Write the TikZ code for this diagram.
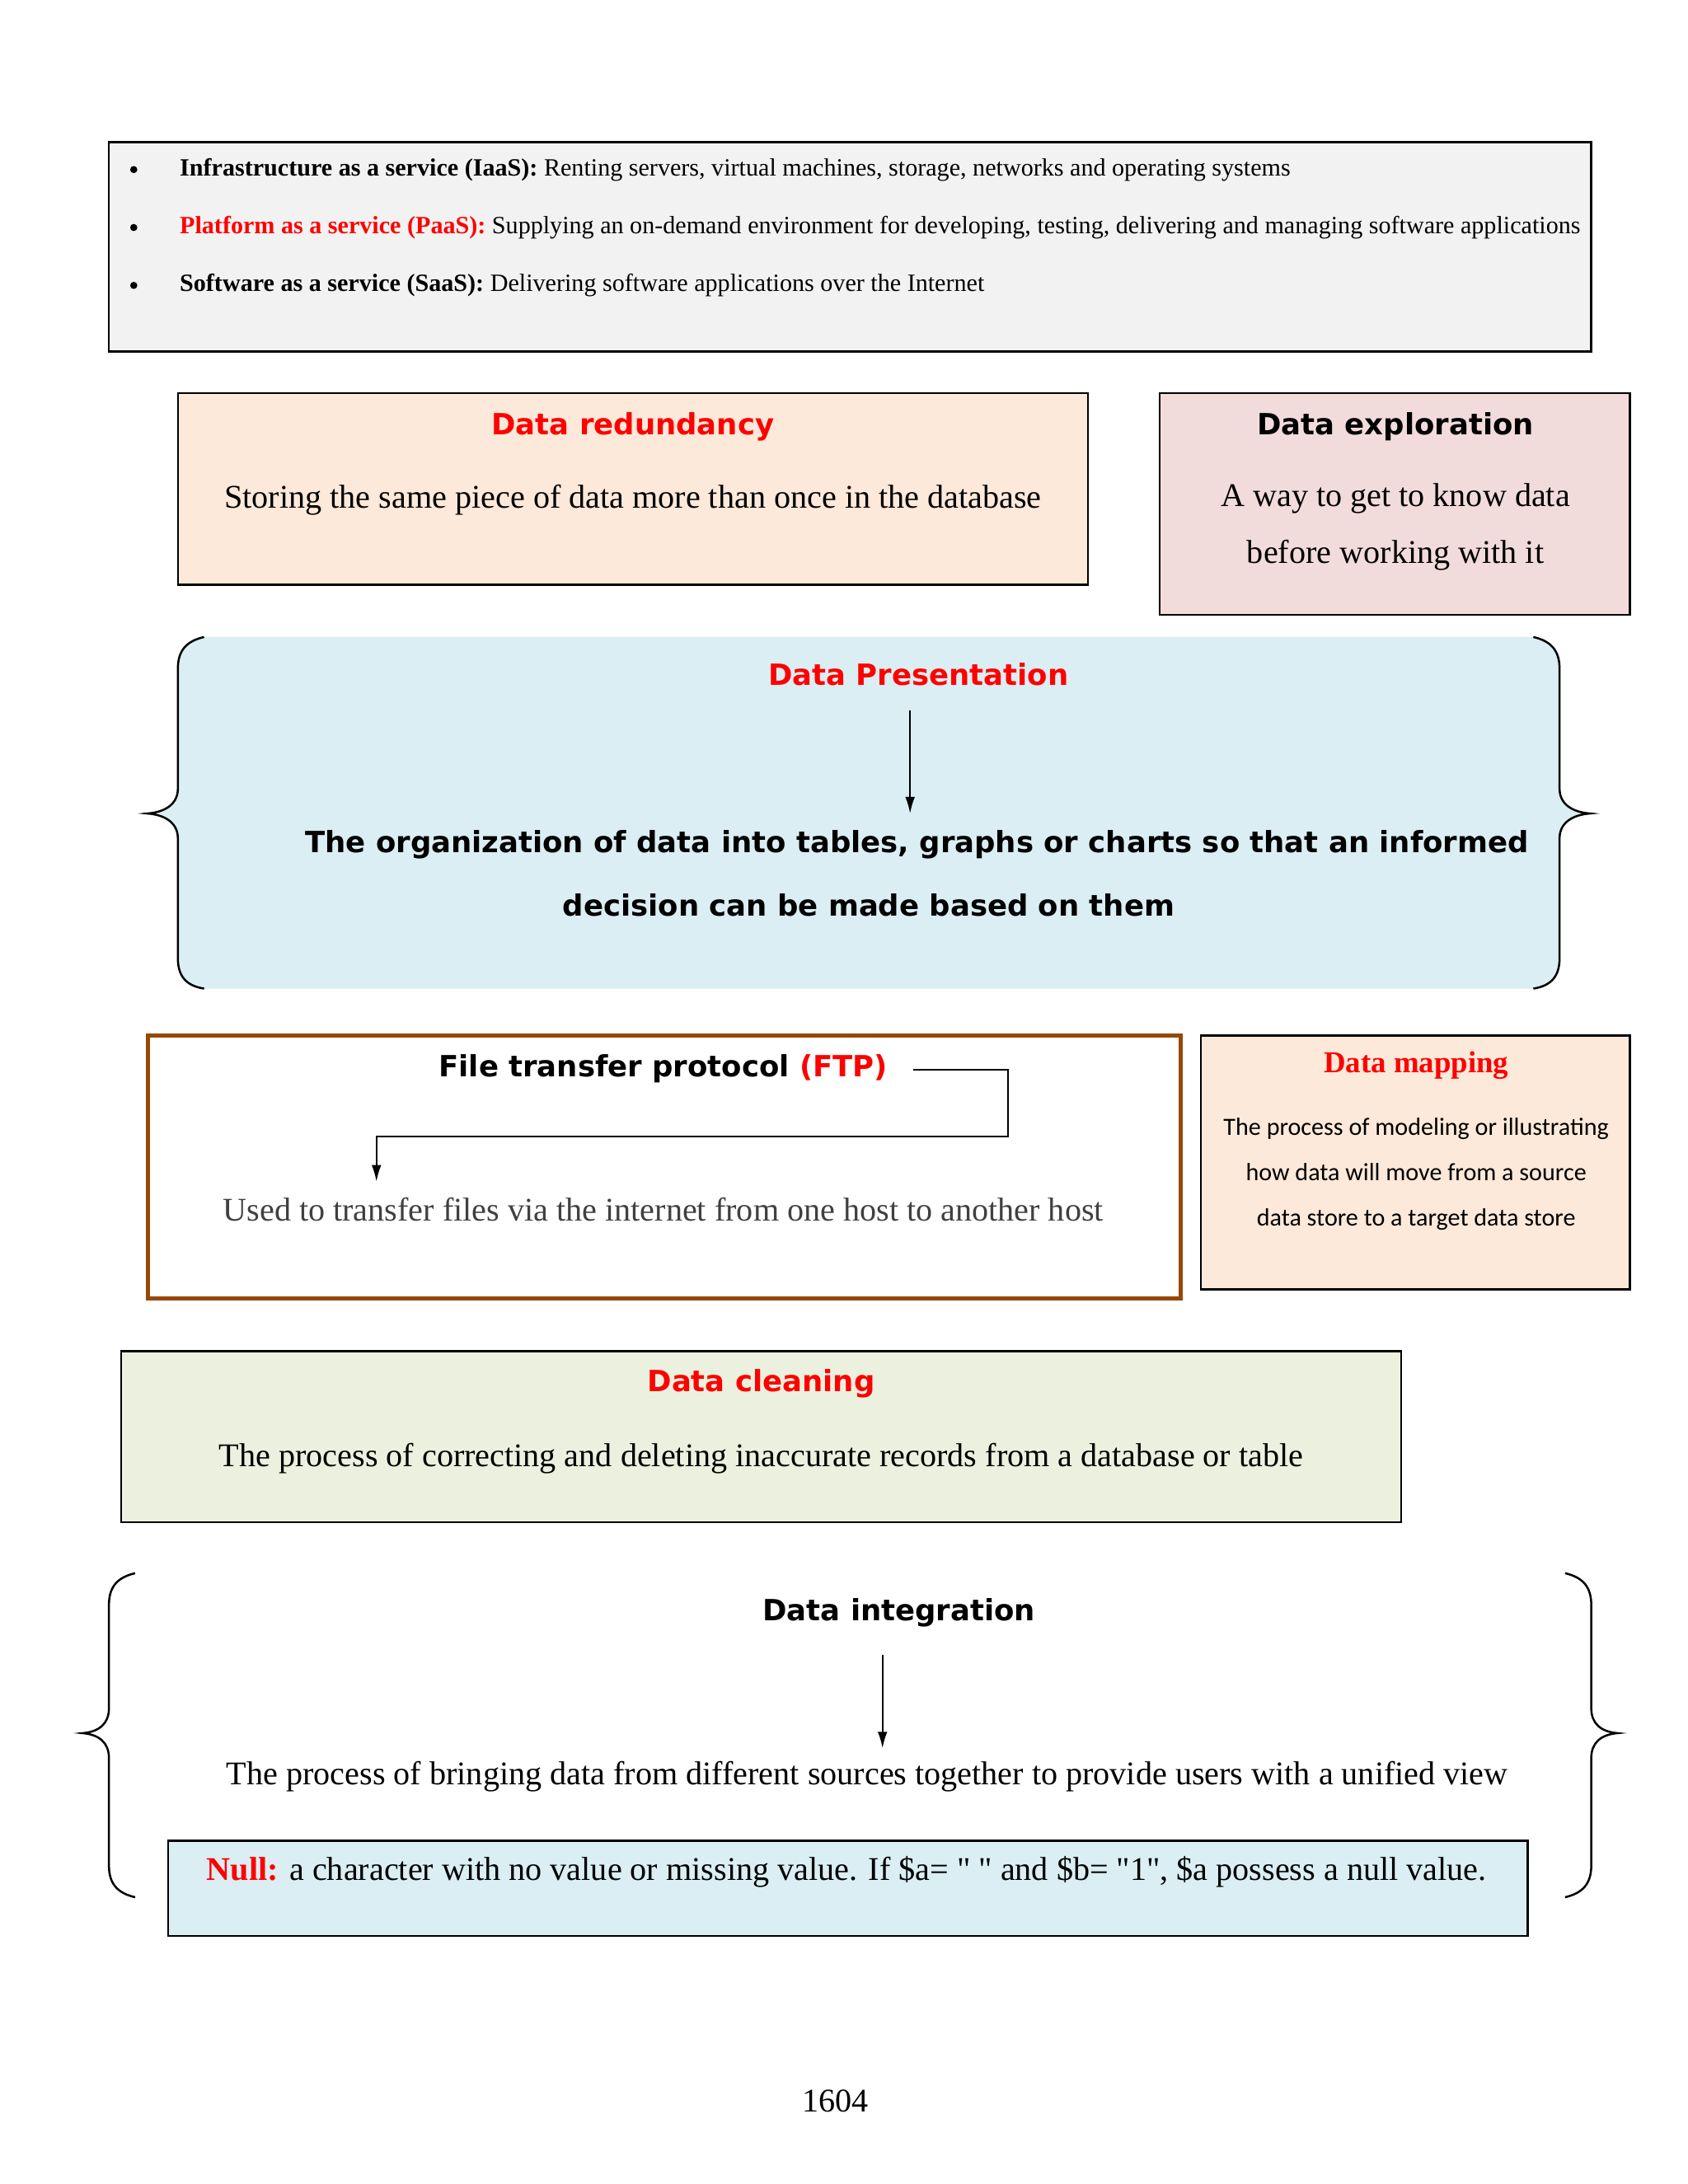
\documentclass[tikz,border=0pt]{standalone}
\usepackage{fontspec}
\setmainfont{Liberation Serif}
\newfontfamily\hd{DejaVu Sans}
\newfontfamily\calfont{Carlito}
\usetikzlibrary{arrows.meta}
\definecolor{redT}{HTML}{FF0000}
\definecolor{greybox}{HTML}{F2F2F2}
\definecolor{peach}{HTML}{FDE9D9}
\definecolor{pinkbox}{HTML}{F2DCDB}
\definecolor{bluebox}{HTML}{DAEEF3}
\definecolor{greenbox}{HTML}{EBF1DE}
\definecolor{brownline}{HTML}{974806}
\definecolor{greytext}{HTML}{404040}
\begin{document}
\begin{tikzpicture}[x=0.5pt,y=-0.5pt,
  box/.style={draw=black, line width=0.75pt},
  txt/.style={inner sep=0pt, anchor=center},
  lt/.style={txt, anchor=west},
  hdtitle/.style={txt, font=\hd\bfseries\fontsize{10.6}{13}\selectfont},
  body/.style={txt, font=\fontsize{12}{14}\selectfont},
  small/.style={font=\fontsize{9}{11}\selectfont},
  arr/.style={line width=0.6pt, -{Latex[length=6pt,width=3.5pt]}},
  brace/.style={line width=0.75pt}]
\useasboundingbox (0,0) rectangle (1224,1584);
\fill[white] (0,0) rectangle (1224,1584);

% ---- top service box
\draw[box, fill=greybox] (79,103) rectangle (1154,255);
\foreach \yy in {123,165,207} \fill (97,\yy) circle (2.6);
\node[lt, small] (iaas) at (130,123) {\textbf{Infrastructure as a service (IaaS):} Renting servers, virtual machines, storage, networks and operating systems\strut};
\node[lt, small] (paas) at (130,165) {\textbf{\color{redT}Platform as a service (PaaS):} Supplying an on-demand environment for developing, testing, delivering and managing software applications\strut};
\node[lt, small] (saas) at (130,207) {\textbf{Software as a service (SaaS):} Delivering software applications over the Internet\strut};

% ---- data redundancy
\draw[box, fill=peach] (129,285) rectangle (789,424);
\node[hdtitle, text=redT] (redT) at (459,310) {Data redundancy\strut};
\node[body] (redB) at (459,363) {Storing the same piece of data more than once in the database\strut};

% ---- data exploration
\draw[box, fill=pinkbox] (841,285) rectangle (1182,446);
\node[hdtitle] (expT) at (1012,310) {Data exploration\strut};
\node[body] (expB1) at (1012,362) {A way to get to know data\strut};
\node[body] (expB2) at (1012,403) {before working with it\strut};

% ---- data presentation (braced)
\fill[bluebox] (148,462) .. controls (135,465) and (129,472) .. (129,485) -- (129,572)
  .. controls (129,583) and (120,589) .. (107,590) .. controls (120,591) and (129,597) .. (129,608)
  -- (129,695) .. controls (129,708) and (135,715) .. (148,717)
  -- (1112,717) .. controls (1125,715) and (1131,708) .. (1131,695) -- (1131,608)
  .. controls (1131,597) and (1140,591) .. (1153,590) .. controls (1140,589) and (1131,583) .. (1131,572)
  -- (1131,485) .. controls (1131,472) and (1125,465) .. (1112,462) -- cycle;
\draw[brace] (148,462) .. controls (135,465) and (129,472) .. (129,485) -- (129,572)
  .. controls (129,583) and (120,589) .. (107,590) .. controls (120,591) and (129,597) .. (129,608)
  -- (129,695) .. controls (129,708) and (135,715) .. (148,717);
\draw[brace] (1112,462) .. controls (1125,465) and (1131,472) .. (1131,485) -- (1131,572)
  .. controls (1131,583) and (1140,589) .. (1153,590) .. controls (1140,591) and (1131,597) .. (1131,608)
  -- (1131,695) .. controls (1131,708) and (1125,715) .. (1112,717);
\node[hdtitle, text=redT] (preT) at (666,492) {Data Presentation\strut};
\node[hdtitle] (preB1) at (665,613) {The organization of data into tables, graphs or charts so that an informed\strut};
\node[hdtitle] (preB2) at (630,659) {decision can be made based on them\strut};
\coordinate (preA1) at (660,515);
\coordinate (preA2) at (660,590);
\draw[arr] (preA1) -- (preA2);

% ---- FTP
\draw[draw=brownline, line width=1.5pt, fill=white] (107,751) rectangle (856,942);
\node[hdtitle] (ftpT) at (481,776) {File transfer protocol {\color{redT}(FTP)}\strut};
\node[body, text=greytext] (ftpB) at (481,880) {Used to transfer files via the internet from one host to another host\strut};
\coordinate (ftp1) at (662,776);
\coordinate (ftp2) at (731,776);
\coordinate (ftp3) at (731,824);
\coordinate (ftp4) at (273,824);
\coordinate (ftp5) at (273,857);
\draw[arr] (ftp1) -- (ftp2) -- (ftp3) -- (ftp4) -- (ftp5);

% ---- data mapping
\draw[box, fill=peach] (871,751) rectangle (1182,935);
\node[txt, text=redT, font=\bfseries\fontsize{11}{13}\selectfont] (mapT) at (1027,773) {Data mapping\strut};
\node[txt, font=\calfont\fontsize{9}{11}\selectfont] (mapB1) at (1027,819) {The process of modeling or illustrating\strut};
\node[txt, font=\calfont\fontsize{9}{11}\selectfont] (mapB2) at (1027,852) {how data will move from a source\strut};
\node[txt, font=\calfont\fontsize{9}{11}\selectfont] (mapB3) at (1027,885) {data store to a target data store\strut};

% ---- data cleaning
\draw[box, fill=greenbox] (88,980) rectangle (1016,1104);
\node[hdtitle, text=redT] (clnT) at (552,1004) {Data cleaning\strut};
\node[body] (clnB) at (552,1058) {The process of correcting and deleting inaccurate records from a database or table\strut};

% ---- data integration (braced)
\draw[brace] (98,1141) .. controls (85,1144) and (79,1151) .. (79,1164) -- (79,1239)
  .. controls (79,1250) and (72,1256) .. (60,1257) .. controls (72,1258) and (79,1264) .. (79,1275)
  -- (79,1353) .. controls (79,1366) and (85,1373) .. (98,1376);
\draw[brace] (1135,1141) .. controls (1148,1144) and (1154,1151) .. (1154,1164) -- (1154,1239)
  .. controls (1154,1250) and (1161,1256) .. (1173,1257) .. controls (1161,1258) and (1154,1264) .. (1154,1275)
  -- (1154,1353) .. controls (1154,1366) and (1148,1373) .. (1135,1376);
\node[hdtitle] (intT) at (652,1170) {Data integration\strut};
\coordinate (intA1) at (640,1200);
\coordinate (intA2) at (640,1268);
\draw[arr] (intA1) -- (intA2);
\node[body] (intB) at (629,1289) {The process of bringing data from different sources together to provide users with a unified view\strut};

% ---- null
\draw[box, fill=bluebox] (122,1335) rectangle (1108,1404);
\node[body] (null) at (614,1358) {\textbf{\color{redT}Null:} a character with no value or missing value. If \$a= \textquotedbl{} \textquotedbl{} and \$b= \textquotedbl{}1\textquotedbl{}, \$a possess a null value.\strut};

% ---- page number
\node[body] (pg) at (606,1526) {1604\strut};
\end{tikzpicture}
\end{document}
